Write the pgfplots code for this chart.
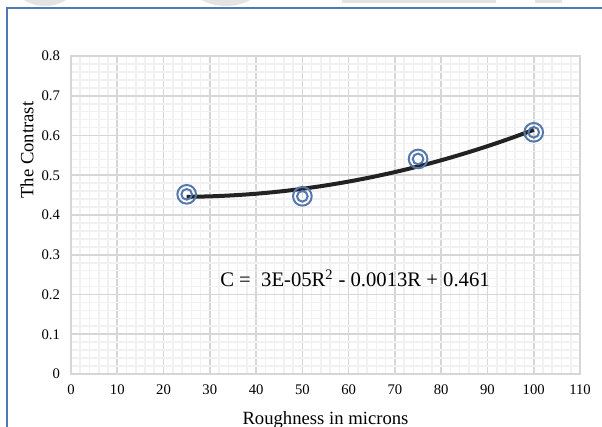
\documentclass[border=0pt]{standalone}
\usepackage{fontspec}
\setmainfont{Liberation Serif}
\usepackage{pgfplots}
\pgfplotsset{compat=1.18}
\definecolor{mkblue}{RGB}{84,120,172}
\definecolor{frameblue}{RGB}{79,120,180}
\definecolor{trend}{RGB}{34,34,34}

\begin{document}
\begin{tikzpicture}
\useasboundingbox (-53.25pt,-39.75pt) rectangle (398.25pt,280.5pt);
% faint watermark shapes at the top edge
\fill[gray!22] (-19.5pt,295.5pt) ellipse [x radius=24.75pt, y radius=19.5pt];
\fill[gray!22] (116.25pt,295.5pt) ellipse [x radius=28.5pt, y radius=19.5pt];
\fill[gray!22] (203.25pt,278.25pt) rectangle (318.75pt,282pt);
\fill[gray!22] (348pt,278.25pt) rectangle (368.25pt,282pt);
% chart area frame
\draw[frameblue, line width=0.9pt] (-48pt,-45pt) -- (-48pt,274.5pt) -- (410pt,274.5pt);

\begin{axis}[
  scale only axis,
  width=381.75pt, height=238.5pt,
  xmin=0, xmax=110, ymin=0, ymax=0.8,
  xtick={0,10,...,110},
  ytick={0,0.1,0.2,0.3,0.4,0.5,0.6,0.7,0.8},
  minor x tick num=4, minor y tick num=4,
  major tick length=0pt, minor tick length=0pt,
  grid=both,
  major grid style={gray!32, line width=1.2pt},
  minor grid style={gray!11, line width=1.2pt},
  axis line style={gray!32, line width=1.2pt},
  /pgf/number format/assume math mode=true,
  ticklabel style={font=\fontsize{11}{13}\selectfont},
  xticklabel style={yshift=-4.5pt},
  yticklabel style={xshift=-4.75pt},
  xlabel={Roughness in microns},
  ylabel={The Contrast},
  label style={font=\fontsize{14}{16}\selectfont},
  xlabel style={at={(rel axis cs:0.5,-0.160)}, anchor=base},
  ylabel style={at={(rel axis cs:-0.0865,0.704)}, anchor=center},
]
\addplot[only marks, mark=o, mark size=7pt, mark options={draw=mkblue, line width=1.5pt}]
  coordinates {(25,0.452)(50,0.447)(75,0.541)(100,0.608)};
\addplot[only marks, mark=o, mark size=4pt, mark options={draw=mkblue, line width=1.5pt}]
  coordinates {(25,0.452)(50,0.447)(75,0.541)(100,0.608)};
% trendline
\addplot[trend, line width=3pt, smooth]
  coordinates {(25,0.4457)(30,0.4469)(35,0.4495)(40,0.4535)(45,0.4590)(50,0.4659)
  (55,0.4743)(60,0.4841)(65,0.4953)(70,0.5080)(75,0.5221)(80,0.5377)(85,0.5547)
  (90,0.5731)(95,0.5930)(100,0.6143)};
\node[anchor=base west, font=\fontsize{15.5}{18}\selectfont, inner sep=0pt]
  at (axis cs:32.2,0.219) {C =\ \ 3E-05R\textsuperscript{2} - 0.0013R + 0.461};
\end{axis}
\end{tikzpicture}
\end{document}
